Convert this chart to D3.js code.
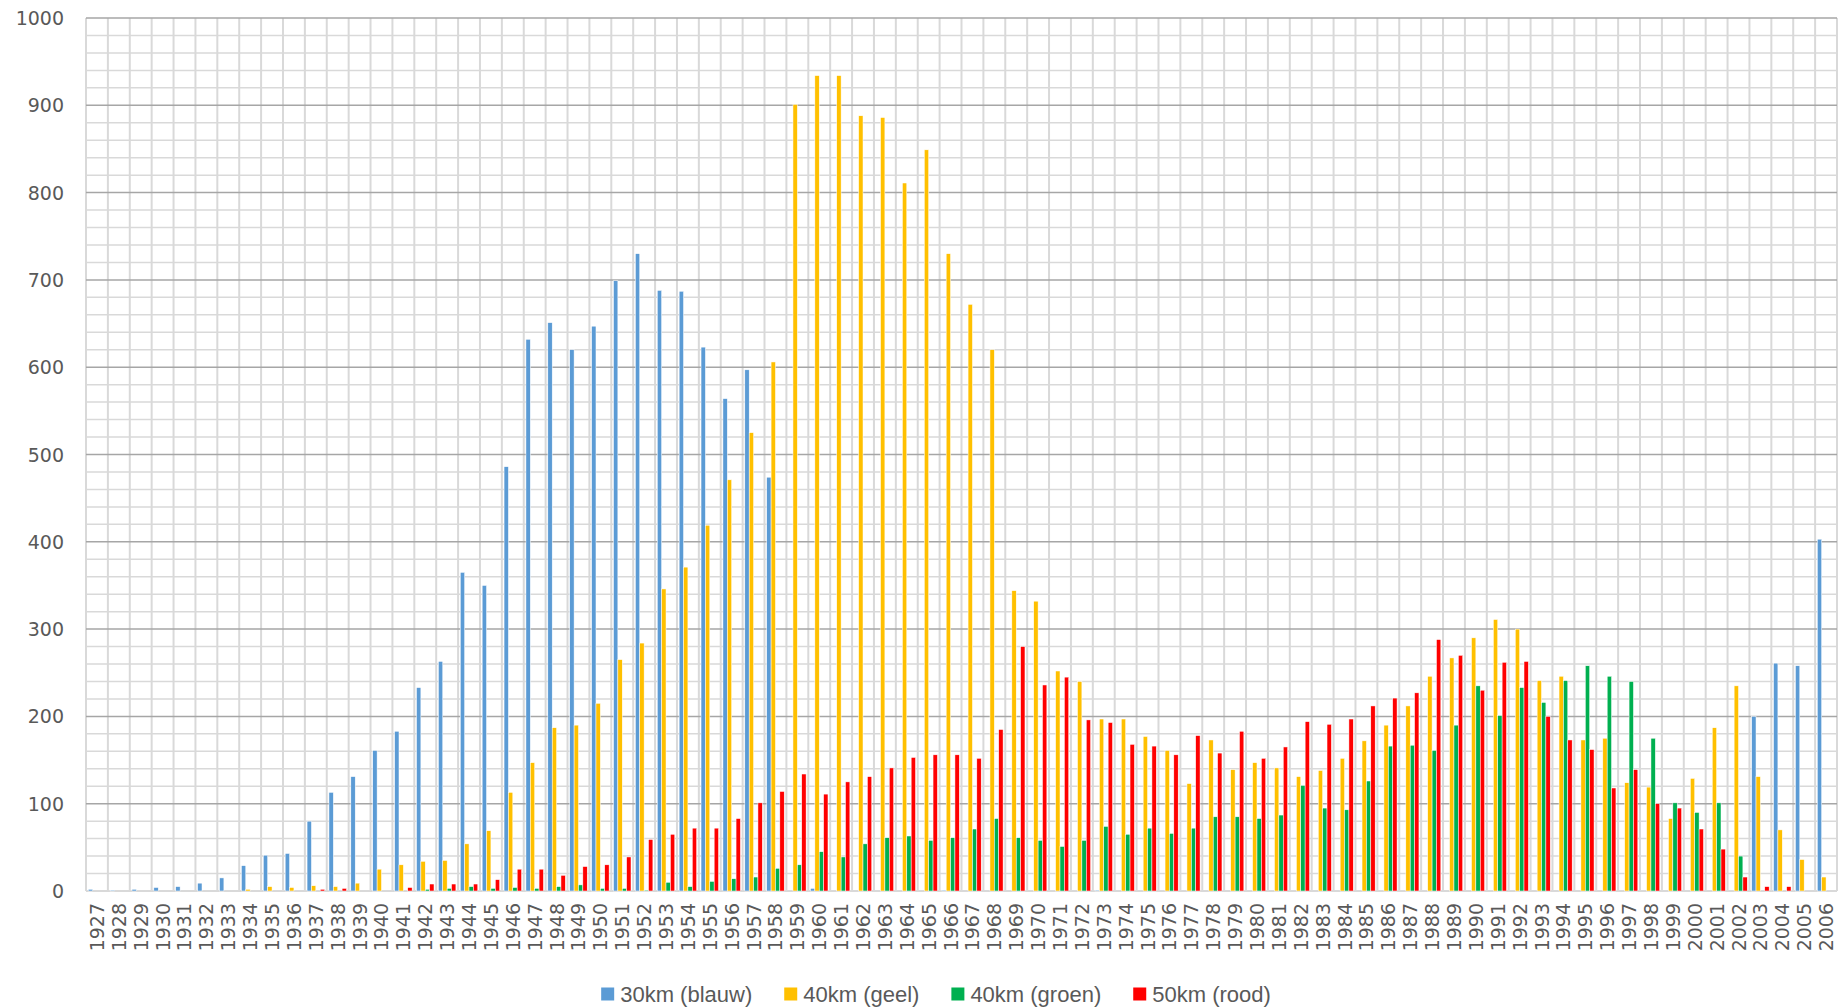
<!DOCTYPE html>
<html>
<head>
<meta charset="utf-8">
<script src="https://cdn.jsdelivr.net/npm/d3@7"></script>
<style>
  body { margin: 0; background: #fff; }
  svg { display: block; }
</style>
</head>
<body>
<div id="chart"></div>
<script>
// jaren 1927 - 2006
const years = d3.range(1927, 2007).map(String);

const seriesNames = ["30km (blauw)", "40km (geel)", "40km (groen)", "50km (rood)"];
const seriesColors = ["#5B9BD5", "#FFC000", "#00B050", "#FF0000"];

const blauw = [2, 1, 2, 4, 5, 9, 15, 29, 41, 43,
  80, 113, 131, 161, 183, 233, 263, 365, 350, 486,
  632, 651, 620, 647, 699, 730, 688, 687, 623, 564,
  597, 474, 0, 3, 0, 0, 0, 0, 0, 1,
  0, 0, 0, 0, 0, 0, 1, 0, 0, 0,
  0, 0, 0, 0, 0, 0, 0, 0, 0, 0,
  0, 0, 0, 0, 0, 0, 0, 0, 0, 0,
  0, 0, 0, 0, 0, 0, 200, 261, 258, 403];

const geel = [0, 0, 0, 0, 0, 0, 0, 2, 5, 4,
  6, 5, 9, 25, 30, 34, 35, 54, 69, 113,
  147, 187, 190, 215, 265, 284, 346, 371, 419, 471,
  525, 606, 901, 934, 934, 888, 886, 811, 849, 730,
  672, 620, 344, 332, 252, 240, 197, 197, 177, 161,
  123, 173, 139, 147, 141, 131, 138, 152, 172, 190,
  212, 246, 267, 290, 311, 300, 241, 246, 173, 175,
  124, 119, 83, 129, 187, 235, 131, 70, 36, 16];

const groen = [0, 0, 0, 0, 0, 0, 0, 0, 0, 0,
  0, 0, 0, 0, 0, 2, 3, 5, 3, 4,
  3, 5, 7, 3, 3, 1, 10, 5, 11, 14,
  16, 26, 30, 45, 39, 54, 61, 63, 58, 61,
  71, 83, 61, 58, 51, 58, 74, 65, 72, 66,
  72, 85, 85, 83, 87, 121, 95, 93, 126, 166,
  167, 161, 190, 235, 201, 233, 216, 241, 258, 246,
  240, 175, 101, 90, 101, 40, 0, 0, 0, 0];

const rood = [0, 0, 0, 0, 0, 0, 0, 0, 0, 0,
  2, 3, 0, 0, 4, 8, 8, 8, 13, 25,
  25, 18, 28, 30, 39, 59, 65, 72, 72, 83,
  101, 114, 134, 111, 125, 131, 141, 153, 156, 156,
  152, 185, 280, 236, 245, 196, 193, 168, 166, 156,
  178, 158, 183, 152, 165, 194, 191, 197, 212, 221,
  227, 288, 270, 230, 262, 263, 200, 173, 162, 118,
  139, 100, 95, 71, 48, 16, 5, 5, 0, 0];

const yMax = 1000;
const yTicks = d3.range(0, 1001, 100);
const yMinorTicks = d3.range(0, 1001, 20);

const seriesValues = [blauw, geel, groen, rood];

const width = 1843;
const height = 1008;
const plotLeft = 86;
const plotRight = 1837;
const plotTop = 18;
const plotBottom = 891;

const svg = d3.select("#chart")
  .append("svg")
  .attr("width", width)
  .attr("height", height);

const x = d3.scaleBand()
  .domain(years)
  .range([plotLeft, plotRight])
  .paddingInner(0.2)
  .paddingOuter(0.1);

const xs = d3.scaleBand()
  .domain(d3.range(seriesNames.length))
  .range([0, x.bandwidth()]);

const y = d3.scaleLinear()
  .domain([0, yMax])
  .range([plotBottom, plotTop]);

// rasterlijnen
const grid = svg.append("g");
const step = x.step();
const cellEdges = d3.range(years.length + 1).map(i => plotLeft + i * step);

grid.selectAll(".minor")
  .data(yMinorTicks.filter(v => v % 100 !== 0))
  .join("line")
  .attr("x1", plotLeft).attr("x2", plotRight)
  .attr("y1", d => y(d)).attr("y2", d => y(d))
  .attr("stroke", "#d9d9d9")
  .attr("stroke-width", 1.5);

grid.selectAll(".vline")
  .data(cellEdges)
  .join("line")
  .attr("x1", d => d).attr("x2", d => d)
  .attr("y1", plotTop).attr("y2", plotBottom)
  .attr("stroke", "#d9d9d9")
  .attr("stroke-width", 2);

grid.selectAll(".major")
  .data(yTicks)
  .join("line")
  .attr("x1", plotLeft).attr("x2", plotRight)
  .attr("y1", d => y(d)).attr("y2", d => y(d))
  .attr("stroke", d => d === 0 ? "#d9d9d9" : "#a6a6a6")
  .attr("stroke-width", d => d === 0 ? 2 : 1.5);

// staven
seriesValues.forEach((vals, si) => {
  svg.append("g")
    .selectAll("rect")
    .data(vals)
    .join("rect")
    .attr("x", (d, i) => x(years[i]) + xs(si))
    .attr("y", d => y(d))
    .attr("width", xs.bandwidth())
    .attr("height", d => plotBottom - y(d))
    .attr("fill", seriesColors[si])
    .attr("stroke", "#fff")
    .attr("stroke-width", 0.5);
});

// y-as
svg.append("g")
  .selectAll("text")
  .data(yTicks)
  .join("text")
  .attr("x", 64)
  .attr("y", d => y(d))
  .attr("text-anchor", "end")
  .attr("dominant-baseline", "central")
  .attr("font-family", "DejaVu Sans")
  .attr("font-size", "19px")
  .attr("fill", "#595959")
  .text(d => d);

// x-as
svg.append("g")
  .selectAll("text")
  .data(years)
  .join("text")
  .attr("transform", d => `translate(${x(d) + x.bandwidth() / 2},${plotBottom + 12}) rotate(-90)`)
  .attr("text-anchor", "end")
  .attr("dominant-baseline", "central")
  .attr("font-family", "DejaVu Sans")
  .attr("font-size", "19px")
  .attr("fill", "#595959")
  .text(d => d);

// legenda
const legend = svg.append("g");
const legendY = 994;
const items = legend.selectAll("g")
  .data(seriesNames)
  .join("g");

items.append("rect")
  .attr("x", 0).attr("y", legendY - 6.5)
  .attr("width", 13).attr("height", 13)
  .attr("fill", (d, i) => seriesColors[i]);

items.append("text")
  .attr("x", 19)
  .attr("y", legendY)
  .attr("dominant-baseline", "central")
  .attr("font-family", "Liberation Sans")
  .attr("font-size", "22px")
  .attr("fill", "#595959")
  .text(d => d);

const widths = [];
items.each(function () { widths.push(this.getBBox().width); });
const gap = 32;
const total = d3.sum(widths) + gap * (widths.length - 1);
let lx = 936 - total / 2;
items.each(function (d, i) {
  d3.select(this).attr("transform", `translate(${lx},0)`);
  lx += widths[i] + gap;
});
</script>
</body>
</html>
